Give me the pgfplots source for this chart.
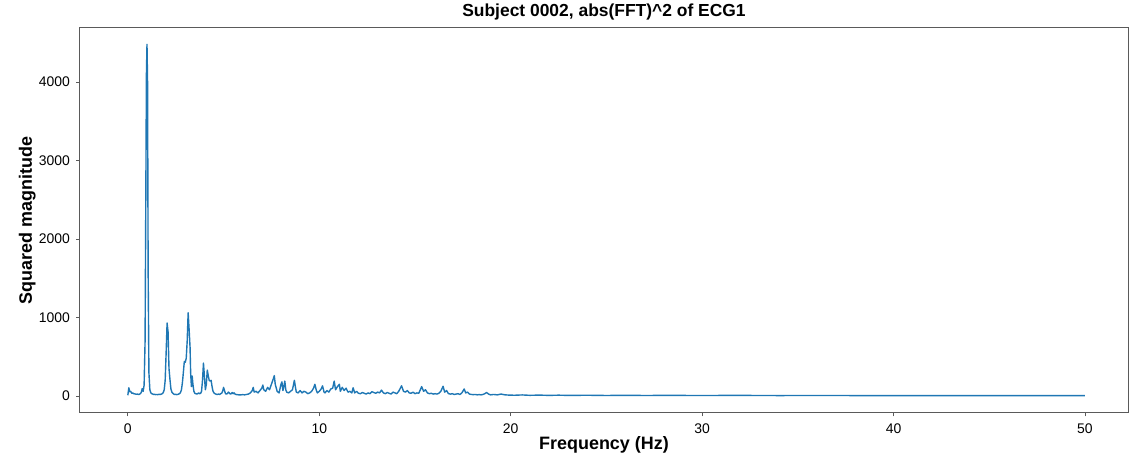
\documentclass[border=0pt]{standalone}
\usepackage{pgfplots}
\pgfplotsset{compat=1.18}
\usepackage{fontspec}
\setmainfont{Liberation Sans}
\definecolor{mplblue}{HTML}{1F77B4}
\definecolor{framec}{HTML}{5A5A5A}
\begin{document}
\begin{tikzpicture}
\begin{axis}[
  name=ax,
  scale only axis,
  width=1048bp, height=385bp,
  xmin=-2.5, xmax=52.25,
  ymin=-216, ymax=4688,
  xtick={0,10,20,30,40,50},
  ytick={0,1000,2000,3000,4000},
  scaled y ticks=false,
  yticklabel style={/pgf/number format/fixed,/pgf/number format/1000 sep={}},
  /pgf/number format/assume math mode=true,
  tick label style={font=\fontsize{14}{16}\selectfont, color=black},
  xticklabel style={yshift=-4bp},
  yticklabel style={xshift=-3bp},
  tick align=outside,
  xtick pos=bottom, ytick pos=left,
  major tick length=3.5bp,
  every tick/.style={framec, line width=0.8bp},
  axis line style={framec, line width=1bp},
  title={Subject 0002, abs(FFT)\^{}2 of ECG1},
  title style={font=\bfseries\fontsize{17.5}{20}\selectfont, at={(axis description cs:0.5,1.0156)}, anchor=base, inner sep=0pt},
  xlabel={Frequency (Hz)},
  xlabel style={font=\bfseries\fontsize{18}{20}\selectfont, at={(axis description cs:0.5,-0.0961)}, anchor=base, inner sep=0pt},
  ylabel={Squared magnitude},
  ylabel style={font=\bfseries\fontsize{18}{20}\selectfont, at={(axis description cs:-0.0458,0.5)}, rotate=0, anchor=base, inner sep=0pt},
]
\addplot[mplblue, line width=1.4bp, line join=round] coordinates {
(0.00,10)(0.05,105)(0.10,55)(0.15,60)(0.20,35)(0.25,40)(0.30,30)(0.35,28)(0.40,25)(0.45,22)
(0.50,25)(0.55,20)(0.60,22)(0.65,30)(0.70,45)(0.75,95)(0.80,60)(0.85,140)(0.90,700)(0.94,2600)
(0.97,4100)(1.00,4480)(1.03,4000)(1.06,1600)(1.10,300)(1.15,80)(1.20,40)(1.25,30)(1.30,25)(1.35,20)(1.40,22)
(1.45,18)(1.50,20)(1.55,18)(1.60,20)(1.65,22)(1.70,20)(1.75,25)(1.80,30)(1.85,45)(1.90,80)
(1.95,200)(2.00,550)(2.05,930)(2.10,820)(2.15,350)(2.20,210)(2.25,90)(2.30,50)(2.35,35)(2.40,25)
(2.45,20)(2.50,22)(2.55,18)(2.60,20)(2.65,25)(2.70,30)(2.75,45)(2.80,80)(2.85,170)(2.90,300)
(2.95,440)(3.00,430)(3.05,480)(3.10,700)(3.15,1060)(3.20,850)(3.25,620)(3.28,300)(3.32,120)(3.36,255)
(3.40,150)(3.45,60)(3.50,35)(3.55,30)(3.60,25)(3.65,30)(3.70,40)(3.75,30)(3.80,35)(3.85,60)
(3.90,200)(3.95,420)(4.00,250)(4.05,80)(4.10,150)(4.15,330)(4.20,260)(4.25,200)(4.30,190)(4.35,200)
(4.40,120)(4.45,60)(4.50,40)(4.55,30)(4.60,25)(4.65,20)(4.70,22)(4.75,25)(4.80,20)(4.85,30)
(4.90,35)(4.95,60)(5.00,110)(5.05,70)(5.10,30)(5.15,25)(5.20,30)(5.25,50)(5.30,40)(5.35,25)
(5.40,30)(5.45,45)(5.50,30)(5.55,40)(5.60,25)(5.65,20)(5.70,18)(5.80,15)(5.90,15)(6.00,18)
(6.10,15)(6.20,20)(6.30,25)(6.40,40)(6.50,70)(6.55,110)(6.60,50)(6.70,60)(6.80,40)(6.90,70)
(7.00,100)(7.05,140)(7.10,80)(7.20,60)(7.30,110)(7.40,80)(7.50,150)(7.60,220)(7.65,260)(7.70,150)
(7.80,60)(7.90,40)(8.00,150)(8.05,180)(8.10,70)(8.15,120)(8.20,190)(8.25,80)(8.30,50)(8.40,40)
(8.50,60)(8.60,80)(8.70,200)(8.75,120)(8.80,50)(8.90,40)(9.00,70)(9.10,40)(9.20,60)(9.30,50)
(9.40,30)(9.50,40)(9.60,60)(9.70,100)(9.77,150)(9.85,70)(9.90,40)(10.00,60)(10.10,90)(10.17,130)
(10.25,50)(10.30,40)(10.40,70)(10.50,50)(10.60,90)(10.70,100)(10.78,190)(10.85,80)(10.95,120)(11.05,150)
(11.10,60)(11.20,110)(11.30,70)(11.40,100)(11.50,50)(11.60,60)(11.70,40)(11.77,105)(11.85,40)(11.95,60)
(12.05,35)(12.15,30)(12.25,45)(12.35,35)(12.45,25)(12.55,40)(12.65,30)(12.75,55)(12.85,45)(12.95,35)
(13.05,50)(13.15,40)(13.25,75)(13.35,40)(13.45,30)(13.55,45)(13.65,35)(13.75,25)(13.85,50)(13.95,40)
(14.05,30)(14.15,60)(14.30,130)(14.40,60)(14.50,50)(14.60,70)(14.70,40)(14.80,35)(14.90,50)(15.00,30)
(15.10,40)(15.20,35)(15.35,120)(15.45,60)(15.55,80)(15.65,40)(15.75,30)(15.85,35)(15.95,25)(16.05,30)
(16.15,25)(16.25,35)(16.35,60)(16.47,125)(16.55,50)(16.65,70)(16.75,30)(16.85,25)(16.95,30)(17.05,20)
(17.15,25)(17.25,30)(17.35,20)(17.45,40)(17.57,90)(17.65,40)(17.75,50)(17.85,25)(17.95,20)(18.05,18)
(18.15,20)(18.25,15)(18.35,18)(18.45,15)(18.55,20)(18.65,30)(18.74,45)(18.85,25)(18.95,15)(19.10,20)
(19.30,15)(19.50,25)(19.70,15)(19.90,12)(20.20,10)(20.60,14)(21.00,9)(21.50,12)(22.00,8)(22.50,11)
(23.00,8)(24.00,10)(25.00,7)(26.00,9)(27.00,7)(28.00,8)(30.00,7)(32.00,8)(34.00,6)(36.00,7)
(38.00,6)(40.00,6)(42.00,6)(44.00,5)(46.00,6)(48.00,5)(50.00,5)
};
\end{axis}
\pgfresetboundingbox
\path[use as bounding box] ([xshift=-80bp,yshift=-46bp]ax.south west) rectangle ([xshift=8bp,yshift=28bp]ax.north east);
\end{tikzpicture}
\end{document}
